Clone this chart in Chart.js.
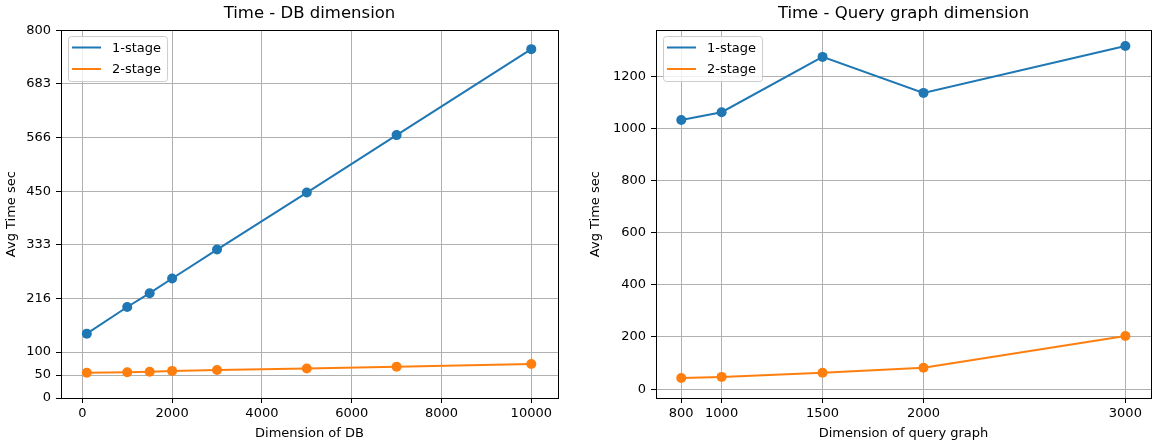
<!DOCTYPE html>
<html>
<head>
<meta charset="utf-8">
<script src="https://cdn.jsdelivr.net/npm/chart.js@4.4.0/dist/chart.umd.min.js"></script>
<style>
    html, body { margin: 0; padding: 0; background: #ffffff; }
    #wrap { position: relative; width: 1163px; height: 448px; }
    .bloco { position: absolute; top: 0; height: 448px; }
</style>
</head>
<body>
<div id="wrap">
    <div class="bloco" style="left:0;width:580px"><canvas id="grafico_db" width="580" height="448"></canvas></div>
    <div class="bloco" style="left:580px;width:583px"><canvas id="grafico_query" width="583" height="448"></canvas></div>
</div>
<script>
// grafico da esquerda - dimensao do DB
const dbSizes = [100, 1000, 1500, 2000, 3000, 5000, 7000, 10000];
const dbOneStage = [140, 198, 228, 260, 323, 447, 572, 759];
const dbTwoStage = [55, 56, 57, 59, 61, 64, 68, 74];
const dbXTicks = [0, 2000, 4000, 6000, 8000, 10000];
const dbYTicks = [0, 50, 100, 216.67, 333.33, 450, 566.67, 683.33, 800];
const dbYLabels = ['0', '50', '100', '216', '333', '450', '566', '683', '800'];

// grafico da direita - dimensao do query graph
const querySizes = [800, 1000, 1500, 2000, 3000];
const queryOneStage = [1032, 1062, 1274, 1136, 1316];
const queryTwoStage = [43, 47, 63, 82, 204];
const queryXTicks = [800, 1000, 1500, 2000, 3000];
const queryYTicks = [0, 200, 400, 600, 800, 1000, 1200];

const seriesNames = ['1-stage', '2-stage'];
const seriesColors = ['#1f77b4', '#ff7f0e'];

Chart.defaults.font.family = '"DejaVu Sans", sans-serif';
Chart.defaults.color = '#000000';

function pontos(xs, ys) {
    return xs.map((x, i) => ({ x: x, y: ys[i] }));
}

// moldura preta em volta da area do grafico (estilo matplotlib)
const moldura = {
    id: 'moldura',
    afterDatasetsDraw(chart) {
        const a = chart.chartArea, ctx = chart.ctx;
        ctx.save();
        ctx.strokeStyle = '#000000';
        ctx.lineWidth = 1;
        ctx.strokeRect(Math.round(a.left) + 0.5, Math.round(a.top) + 0.5,
            Math.round(a.right - a.left), Math.round(a.bottom - a.top));
        ctx.restore();
    }
};

// legenda dentro da area, canto superior esquerdo
const legendaInterna = {
    id: 'legendaInterna',
    afterDraw(chart) {
        const a = chart.chartArea, ctx = chart.ctx;
        const sets = chart.data.datasets;
        ctx.save();
        ctx.font = '13px "DejaVu Sans"';
        const textW = Math.max(...sets.map(d => ctx.measureText(d.label).width));
        const x = Math.round(a.left) + 7, y = Math.round(a.top) + 6;
        const w = 4 + 29 + 11 + textW + 6, h = 45;
        ctx.beginPath();
        ctx.roundRect(x + 0.5, y + 0.5, w, h, 3);
        ctx.fillStyle = 'rgba(255,255,255,0.8)';
        ctx.fill();
        ctx.strokeStyle = '#cccccc';
        ctx.lineWidth = 1;
        ctx.stroke();
        sets.forEach((d, i) => {
            const ly = y + 11.5 + i * 21.5;
            ctx.strokeStyle = d.borderColor;
            ctx.lineWidth = 2;
            ctx.beginPath();
            ctx.moveTo(x + 4, ly);
            ctx.lineTo(x + 33, ly);
            ctx.stroke();
            ctx.fillStyle = '#000000';
            ctx.textBaseline = 'middle';
            ctx.textAlign = 'left';
            ctx.fillText(d.label, x + 44, ly + 1);
        });
        ctx.restore();
    }
};

function eixo(cfg) {
    return {
        type: 'linear',
        min: cfg.min,
        max: cfg.max,
        afterBuildTicks: function (scale) {
            scale.ticks = cfg.ticks.map(v => ({ value: v }));
        },
        afterFit: cfg.afterFit,
        border: { display: false },
        grid: {
            color: '#b0b0b0',
            lineWidth: 1,
            drawTicks: true,
            tickLength: 5,
            tickColor: '#000000'
        },
        ticks: {
            autoSkip: false,
            maxRotation: 0,
            padding: cfg.pad,
            font: { size: 13 },
            color: '#000000',
            callback: function (value, index) {
                return cfg.labels ? cfg.labels[index] : String(value);
            }
        },
        title: {
            display: true,
            text: cfg.title,
            font: { size: 13 },
            color: '#000000',
            padding: cfg.titlePad
        }
    };
}

function criaGrafico(id, c) {
    return new Chart(document.getElementById(id), {
        type: 'scatter',
        data: {
            datasets: [c.one, c.two].map((ys, i) => ({
                label: seriesNames[i],
                data: pontos(c.xs, ys),
                showLine: true,
                borderColor: seriesColors[i],
                backgroundColor: seriesColors[i],
                borderWidth: 2,
                pointRadius: 5,
                pointBorderWidth: 0,
                pointHoverRadius: 5
            }))
        },
        options: {
            responsive: false,
            animation: false,
            devicePixelRatio: 1,
            layout: { padding: { left: 0, right: c.padRight, top: 0, bottom: 0 } },
            plugins: {
                legend: { display: false },
                tooltip: { enabled: false },
                title: {
                    display: true,
                    fullSize: false,
                    text: c.title,
                    color: '#000000',
                    font: { size: 16.5, weight: 'normal' },
                    padding: { top: 4, bottom: 6.5 }
                }
            },
            scales: {
                x: eixo({
                    min: c.xMin, max: c.xMax, ticks: c.xTicks, title: c.xTitle, pad: 3,
                    titlePad: { top: 0, bottom: 7 },
                    afterFit: s => { s.height = 50; }
                }),
                y: eixo({
                    min: c.yMin, max: c.yMax, ticks: c.yTicks, labels: c.yLabels,
                    title: 'Avg Time sec', pad: 5,
                    titlePad: { top: c.yTitleTop, bottom: 0 },
                    afterFit: s => { s.width = c.yWidth; }
                })
            }
        },
        plugins: [moldura, legendaInterna]
    });
}

criaGrafico('grafico_db', {
    title: 'Time - DB dimension',
    xs: dbSizes, one: dbOneStage, two: dbTwoStage,
    xTicks: dbXTicks, yTicks: dbYTicks, yLabels: dbYLabels,
    xMin: -475, xMax: 10595, yMin: 0, yMax: 800,
    xTitle: 'Dimension of DB',
    yWidth: 61, padRight: 22, yTitleTop: 4
});

criaGrafico('grafico_query', {
    title: 'Time - Query graph dimension',
    xs: querySizes, one: queryOneStage, two: queryTwoStage,
    xTicks: queryXTicks, yTicks: queryYTicks, yLabels: null,
    xMin: 675, xMax: 3127, yMin: -34, yMax: 1376,
    xTitle: 'Dimension of query graph',
    yWidth: 76, padRight: 12, yTitleTop: 8
});
</script>
</body>
</html>
